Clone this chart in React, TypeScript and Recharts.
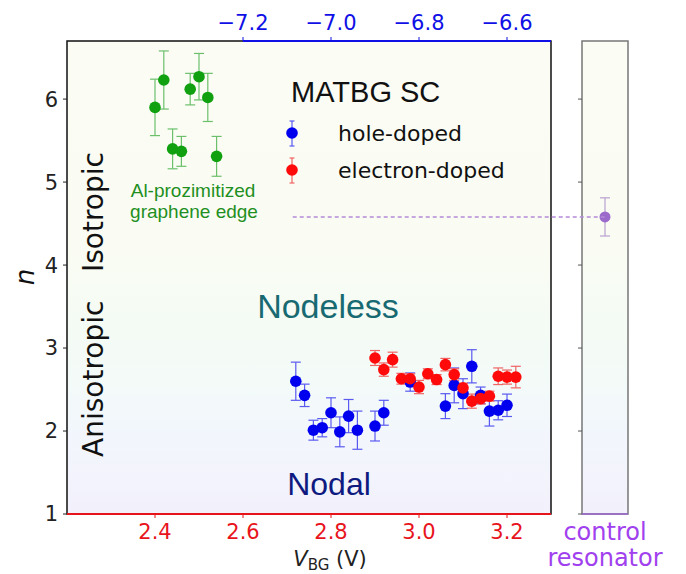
import { ComposedChart, ErrorBar, ReferenceArea, ReferenceLine, Scatter, XAxis, YAxis } from "recharts";

// Al-proximitized graphene edge
const greenV = [2.4, 2.42, 2.44, 2.46, 2.48, 2.5, 2.52, 2.54];
const greenN = [5.9, 6.23, 5.4, 5.37, 6.12, 6.27, 6.02, 5.31];
const greenErr = [0.34, 0.35, 0.24, 0.18, 0.19, 0.28, 0.29, 0.24];

// MATBG SC, hole-doped (read against the bottom axis)
const holeV = [2.72, 2.74, 2.76, 2.78, 2.8, 2.82, 2.84, 2.86, 2.9, 2.92, 2.98, 3.06, 3.08, 3.1, 3.12, 3.14, 3.16, 3.18, 3.2];
const holeN = [2.6, 2.43, 2.01, 2.04, 2.22, 1.99, 2.18, 2.01, 2.06, 2.22, 2.59, 2.3, 2.55, 2.45, 2.78, 2.43, 2.24, 2.25, 2.31];
const holeErr = [0.23, 0.135, 0.12, 0.11, 0.18, 0.18, 0.2, 0.23, 0.18, 0.15, 0.11, 0.15, 0.21, 0.18, 0.2, 0.1, 0.18, 0.115, 0.135];

// MATBG SC, electron-doped
const elecV = [2.9, 2.92, 2.94, 2.96, 2.98, 3.0, 3.02, 3.04, 3.06, 3.08, 3.1, 3.12, 3.14, 3.16, 3.18, 3.2, 3.22];
const elecN = [2.88, 2.74, 2.86, 2.63, 2.63, 2.53, 2.69, 2.62, 2.8, 2.68, 2.52, 2.36, 2.39, 2.42, 2.66, 2.65, 2.65];
const elecErr = [0.09, 0.08, 0.09, 0.065, 0.06, 0.08, 0.06, 0.06, 0.075, 0.07, 0.055, 0.085, 0.065, 0.06, 0.1, 0.085, 0.13];

// control resonator
const controlN = 4.58;
const controlErr = 0.23;
const guideStartV = 2.713;
const guideEndV = 3.4226;

const nTicks = [1, 2, 3, 4, 5, 6];
const bottomTicks = [2.4, 2.6, 2.8, 3.0, 3.2];
const topTicks = [-7.2, -7.0, -6.8, -6.6];
const topAxisStart = -7.2;
const topAxisEnd = -6.5;

const toRows = (v: number[], n: number[], e: number[]) => v.map((x, i) => ({ v: x, n: n[i], e: e[i] }));
const greenRows = toRows(greenV, greenN, greenErr);
const holeRows = toRows(holeV, holeN, holeErr);
const elecRows = toRows(elecV, elecN, elecErr);
const controlRows = [{ v: 0.5, n: controlN, e: controlErr }];
// the top (gate) axis needs a series of its own before recharts draws it
const topRows = [topAxisStart, topAxisEnd].map((v) => ({ v, n: 6.7 }));

const DV = "DejaVu Sans";
const LS = "Liberation Sans";
const RED = "#e8141c";
const BLUE = "#1010e6";
const PURPLE = "#a040ee";

const dot = (fill: string, r: number) => (p: any) => <circle cx={p.cx} cy={p.cy} r={r} fill={fill} />;
const nothing = () => <g />;

const fmtTop = (v: number) => v.toFixed(1).replace("-", "\u2212");

function SidePanel() {
  return (
    <ComposedChart width={686} height={574} margin={{ top: 41, right: 58, bottom: 60, left: 562 }}>
      <XAxis xAxisId="s" type="number" dataKey="v" domain={[0, 1]} hide />
      <YAxis
        yAxisId="s"
        type="number"
        domain={[1, 6.7]}
        ticks={nTicks}
        width={20}
        axisLine={false}
        tickSize={4}
        tickLine={{ stroke: "#555" }}
        tickFormatter={() => ""}
      />
      <ReferenceArea xAxisId="s" yAxisId="s" x1={0} x2={1} y1={1} y2={6.7} fill="url(#bg)" stroke="#777" strokeWidth={1.5} />
      <ReferenceLine xAxisId="s" yAxisId="s" y={1} stroke="#9a66d0" strokeWidth={1.5} />
      <Scatter xAxisId="s" yAxisId="s" data={controlRows} dataKey="n" shape={dot("#9b6acb", 5.5)} isAnimationActive={false}>
        <ErrorBar dataKey="e" direction="y" width={5} stroke="#b9a0d0" strokeWidth={1.2} />
      </Scatter>
    </ComposedChart>
  );
}

function MainPanel() {
  return (
    <ComposedChart width={686} height={574} margin={{ top: 6, right: 135, bottom: 30, left: 7 }}>
      <XAxis
        xAxisId="b"
        type="number"
        dataKey="v"
        domain={[2.2, 3.3]}
        ticks={bottomTicks}
        height={30}
        axisLine={false}
        tickSize={4}
        tickMargin={6}
        tickLine={{ stroke: RED }}
        tick={{ fill: RED, fontSize: 21, fontFamily: DV }}
        tickFormatter={(v: number) => v.toFixed(1)}
        allowDataOverflow
      />
      <XAxis
        xAxisId="t"
        orientation="top"
        type="number"
        dataKey="v"
        domain={[-7.6, -6.5]}
        ticks={topTicks}
        height={35}
        axisLine={false}
        tickSize={4}
        tickMargin={7}
        tickLine={{ stroke: BLUE }}
        tick={{ fill: BLUE, fontSize: 21, fontFamily: DV }}
        tickFormatter={fmtTop}
        allowDataOverflow
      />
      <YAxis
        yAxisId="m"
        type="number"
        domain={[1, 6.7]}
        ticks={nTicks}
        width={60}
        axisLine={false}
        tickSize={4}
        tickMargin={5}
        tickLine={{ stroke: "#222" }}
        tick={{ fill: "#222", fontSize: 21, fontFamily: DV }}
        allowDataOverflow
      />
      <ReferenceArea xAxisId="b" yAxisId="m" x1={2.2} x2={3.3} y1={1} y2={6.7} fill="url(#bg)" stroke="#111" strokeWidth={1.5} />
      <ReferenceLine xAxisId="b" yAxisId="m" y={1} stroke={RED} strokeWidth={1.8} />
      <ReferenceLine
        xAxisId="t"
        yAxisId="m"
        segment={[{ x: topAxisStart, y: 6.7 }, { x: topAxisEnd, y: 6.7 }]}
        stroke={BLUE}
        strokeWidth={1.8}
        ifOverflow="visible"
      />
      <ReferenceLine
        xAxisId="b"
        yAxisId="m"
        segment={[{ x: guideStartV, y: controlN }, { x: guideEndV, y: controlN }]}
        stroke="#b48ad8"
        strokeWidth={1.5}
        strokeDasharray="4 3"
        ifOverflow="visible"
      />
      <Scatter xAxisId="t" yAxisId="m" data={topRows} dataKey="n" shape={nothing} isAnimationActive={false} />
      <Scatter xAxisId="b" yAxisId="m" data={greenRows} dataKey="n" shape={dot("#10a010", 5.8)} isAnimationActive={false}>
        <ErrorBar dataKey="e" direction="y" width={5} stroke="#6cc06c" strokeWidth={1.2} />
      </Scatter>
      <Scatter xAxisId="b" yAxisId="m" data={holeRows} dataKey="n" shape={dot("#0000ee", 5.8)} isAnimationActive={false}>
        <ErrorBar dataKey="e" direction="y" width={5} stroke="#5a5af0" strokeWidth={1.2} />
      </Scatter>
      <Scatter xAxisId="b" yAxisId="m" data={elecRows} dataKey="n" shape={dot("#ff0a0a", 5.8)} isAnimationActive={false}>
        <ErrorBar dataKey="e" direction="y" width={5} stroke="#f06464" strokeWidth={1.2} />
      </Scatter>
    </ComposedChart>
  );
}

export default function App() {
  const abs = { position: "absolute" as const, left: 0, top: 0 };
  return (
    <div style={{ ...abs, width: 686, height: 574, background: "#fff", overflow: "hidden" }}>
      <div style={abs}>
        <SidePanel />
      </div>
      <div style={abs}>
        <MainPanel />
      </div>
      <svg width={686} height={574} style={{ ...abs, pointerEvents: "none" }}>
        <defs>
          <linearGradient id="bg" x1="0" y1="0" x2="0" y2="1">
            <stop offset="0" stopColor="#f8f9ea" />
            <stop offset="0.45" stopColor="#f4f9e7" />
            <stop offset="0.6" stopColor="#eaf8ea" />
            <stop offset="0.72" stopColor="#e7f6f2" />
            <stop offset="0.83" stopColor="#e6eefa" />
            <stop offset="1" stopColor="#e6e3f8" />
          </linearGradient>
        </defs>

        <text x={291} y={102} fontFamily={LS} fontSize={29} fill="#111">MATBG SC</text>
        <line x1={292} x2={292} y1={121} y2={146} stroke="#5a5af0" strokeWidth={1.2} />
        <line x1={289.5} x2={294.5} y1={121} y2={121} stroke="#5a5af0" strokeWidth={1.2} />
        <line x1={289.5} x2={294.5} y1={146} y2={146} stroke="#5a5af0" strokeWidth={1.2} />
        <circle cx={292} cy={133} r={5.8} fill="#0000ee" />
        <line x1={292} x2={292} y1={158} y2={183} stroke="#f06464" strokeWidth={1.2} />
        <line x1={289.5} x2={294.5} y1={158} y2={158} stroke="#f06464" strokeWidth={1.2} />
        <line x1={289.5} x2={294.5} y1={183} y2={183} stroke="#f06464" strokeWidth={1.2} />
        <circle cx={292} cy={170} r={5.8} fill="#ff0a0a" />
        <text x={338} y={141} fontFamily={DV} fontSize={22} fill="#111">hole-doped</text>
        <text x={338} y={178} fontFamily={DV} fontSize={22} fill="#111">electron-doped</text>

        <text x={193} y={197} textAnchor="middle" fontFamily={LS} fontSize={19} fill="#1f8f1f">Al-prozimitized</text>
        <text x={194} y={218} textAnchor="middle" fontFamily={LS} fontSize={19} fill="#1f8f1f">graphene edge</text>

        <text x={328} y={318} textAnchor="middle" fontFamily={LS} fontSize={34} fill="#186a72">Nodeless</text>
        <text x={329} y={495} textAnchor="middle" fontFamily={LS} fontSize={32} fill="#0f1a80">Nodal</text>

        <text transform="translate(103,457) rotate(-90)" fontFamily={DV} fontSize={28} fill="#111">Anisotropic</text>
        <text transform="translate(103,272) rotate(-90)" fontFamily={DV} fontSize={28} fill="#111">Isotropic</text>

        <text transform="translate(34,277) rotate(-90)" textAnchor="middle" fontFamily={DV} fontSize={26} fontStyle="italic" fill="#111">n</text>

        <text x={330} y={566} textAnchor="middle" fontFamily={DV} fontSize={21} fill="#222">
          <tspan fontStyle="italic">V</tspan>
          <tspan fontSize={15} dy={4}>BG</tspan>
          <tspan dy={-4}> (V)</tspan>
        </text>

        <text x={605} y={540} textAnchor="middle" fontFamily={DV} fontSize={24} fill={PURPLE}>control</text>
        <text x={605} y={566} textAnchor="middle" fontFamily={DV} fontSize={24} fill={PURPLE}>resonator</text>
      </svg>
    </div>
  );
}
